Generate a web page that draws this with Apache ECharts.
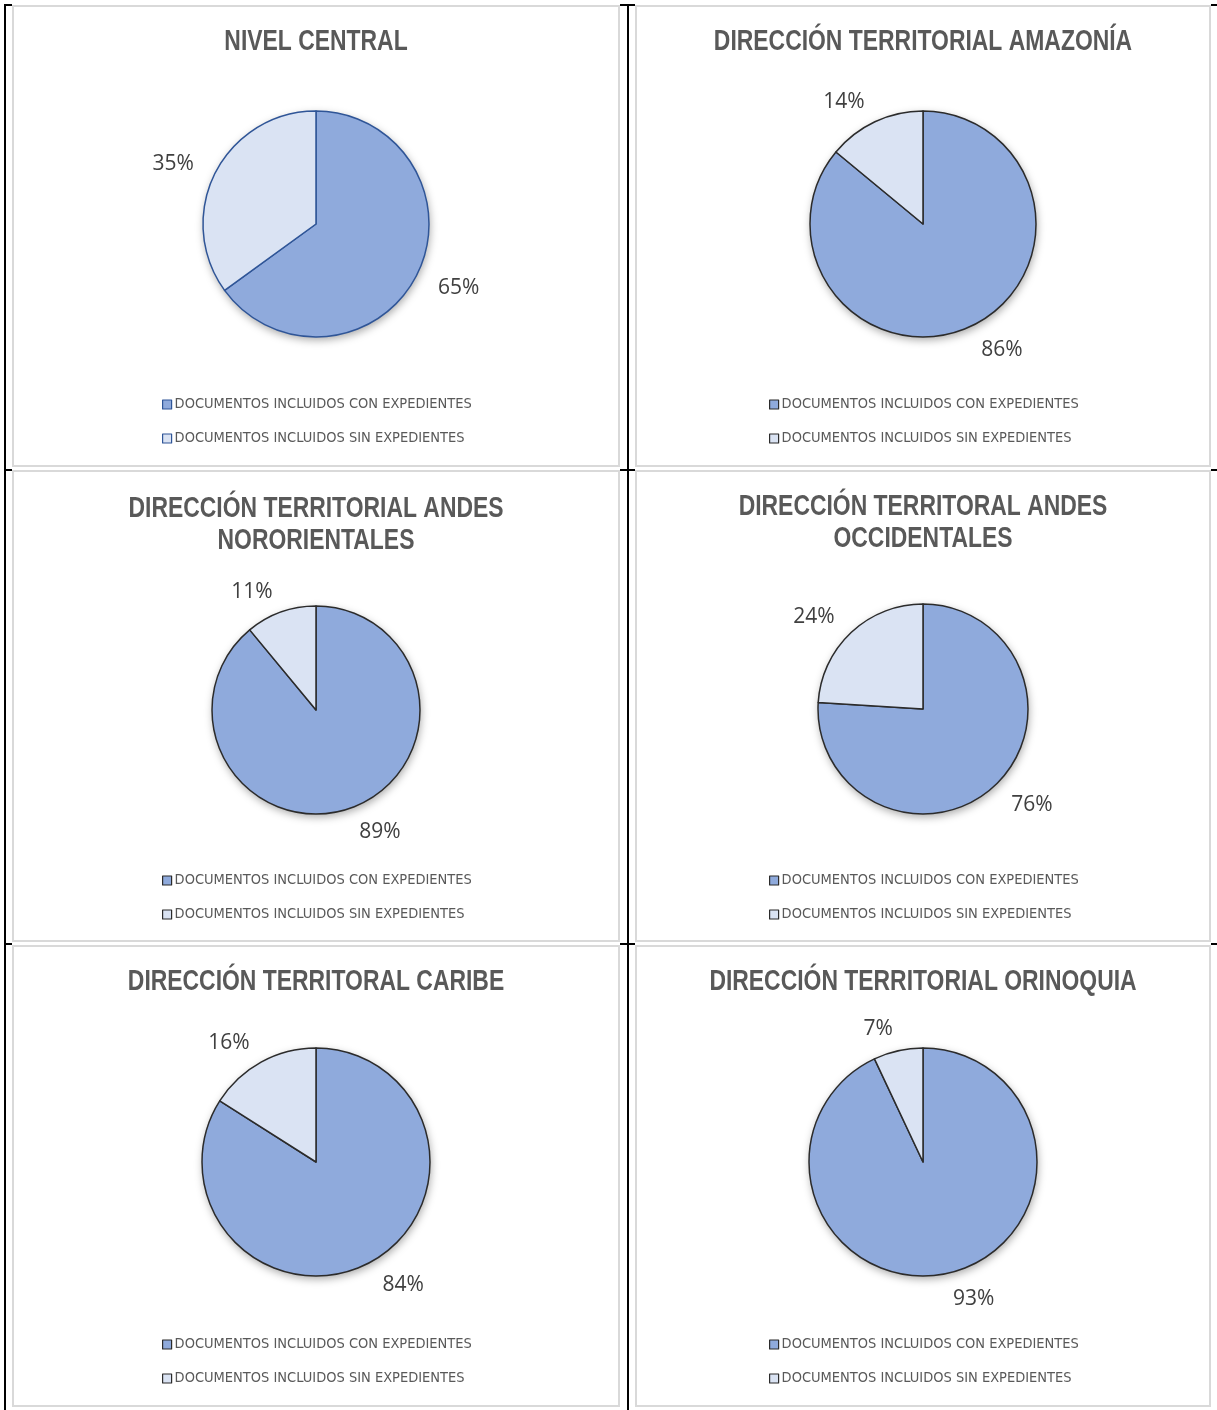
<!DOCTYPE html>
<html>
<head>
<meta charset="utf-8">
<script src="https://cdn.jsdelivr.net/npm/echarts@6/dist/echarts.min.js"></script>
<style>
  html, body { margin: 0; padding: 0; background: #ffffff; }
  #chart { width: 1217px; height: 1410px; }
</style>
</head>
<body>
<div id="chart"></div>
<script>
// ---- DATA ----
const panelTitles = [
  'NIVEL CENTRAL',
  'DIRECCIÓN TERRITORIAL AMAZONÍA',
  'DIRECCIÓN TERRITORIAL ANDES\nNORORIENTALES',
  'DIRECCIÓN TERRITORAL ANDES\nOCCIDENTALES',
  'DIRECCIÓN TERRITORAL CARIBE',
  'DIRECCIÓN TERRITORIAL ORINOQUIA'
];
const categories = ['DOCUMENTOS INCLUIDOS CON EXPEDIENTES', 'DOCUMENTOS INCLUIDOS SIN EXPEDIENTES'];
const conExpedientes = [65, 86, 89, 76, 84, 93];
const sinExpedientes = [35, 14, 11, 24, 16, 7];

// ---- LAYOUT / STYLE ----
const layoutCfg = [
  { cx: 316, cy: 224, r: 113, titleY: 42, legendY: 403, edge: '#2f5597' },
  { cx: 923, cy: 224, r: 113, titleY: 42, legendY: 403, edge: '#2b2b2b' },
  { cx: 316, cy: 710, r: 104, titleY: 509, legendY: 879, edge: '#2b2b2b' },
  { cx: 923, cy: 709, r: 105, titleY: 507, legendY: 879, edge: '#2b2b2b' },
  { cx: 316, cy: 1162, r: 114, titleY: 982, legendY: 1343, edge: '#2b2b2b' },
  { cx: 923, cy: 1162, r: 114, titleY: 982, legendY: 1343, edge: '#2b2b2b' }
];
const colorCon = '#8faadc';
const colorSin = '#dae3f3';
const condensed = "'DejaVu Sans Condensed', 'Liberation Sans', sans-serif";

const frames = [
  { x: 13, y: 6, w: 606, h: 460 },
  { x: 636, y: 6, w: 574, h: 460 },
  { x: 13, y: 471, w: 606, h: 470 },
  { x: 636, y: 471, w: 574, h: 470 },
  { x: 13, y: 946, w: 606, h: 460 },
  { x: 636, y: 946, w: 574, h: 460 }
];

const graphic = [];
// black table lines
graphic.push({ type: 'rect', shape: { x: 4, y: 4, width: 2, height: 1406 }, style: { fill: '#000' }, z: -10 });
graphic.push({ type: 'rect', shape: { x: 627, y: 4, width: 2, height: 1406 }, style: { fill: '#000' }, z: -10 });
graphic.push({ type: 'rect', shape: { x: 4, y: 4, width: 1213, height: 2 }, style: { fill: '#000' }, z: -10 });
graphic.push({ type: 'rect', shape: { x: 4, y: 469, width: 1213, height: 2 }, style: { fill: '#000' }, z: -10 });
graphic.push({ type: 'rect', shape: { x: 4, y: 943, width: 1213, height: 2 }, style: { fill: '#000' }, z: -10 });
frames.forEach(f => {
  graphic.push({ type: 'rect', shape: { x: f.x - 1, y: f.y - 3, width: f.w + 2, height: 4 }, style: { fill: '#fff' }, z: -9 });
  graphic.push({ type: 'rect', shape: { x: f.x, y: f.y, width: f.w, height: f.h }, style: { fill: '#fff', stroke: '#d9d9d9', lineWidth: 2 }, z: -8 });
});

// titles (narrow bold, as real text)
layoutCfg.forEach((p, i) => {
  graphic.push({
    type: 'text',
    x: p.cx,
    y: p.titleY - 16,
    scaleX: 0.79,
    z: 5,
    style: {
      text: panelTitles[i],
      fill: '#595959',
      font: "bold 29px 'Liberation Sans', Arial, sans-serif",
      align: 'center',
      verticalAlign: 'top',
      lineHeight: 32
    }
  });
});

const legend = [];
const series = [];

layoutCfg.forEach((p, i) => {
  legend.push({
    data: categories,
    orient: 'vertical',
    left: p.cx - 154,
    top: p.legendY - 6,
    padding: 0,
    itemGap: 19,
    itemWidth: 9,
    itemHeight: 9,
    icon: 'rect',
    selectedMode: false,
    itemStyle: { borderColor: p.edge, borderWidth: 1.2, shadowBlur: 0, shadowOffsetX: 0, shadowOffsetY: 0 },
    textStyle: { fontFamily: condensed, fontSize: 14.5, color: '#595959', padding: [0, 0, 0, -2] }
  });
  // shadow backing disc
  series.push({
    type: 'pie',
    center: [p.cx, p.cy],
    radius: [0, p.r],
    silent: true,
    z: 2,
    label: { show: false },
    labelLine: { show: false },
    itemStyle: { color: '#ffffff', shadowBlur: 8, shadowOffsetX: 1, shadowOffsetY: 3, shadowColor: 'rgba(0,0,0,0.35)' },
    emphasis: { disabled: true },
    data: [{ value: conExpedientes[i] + sinExpedientes[i], name: 'fondo' }]
  });
  // main pie
  series.push({
    type: 'pie',
    center: [p.cx, p.cy],
    radius: [0, p.r],
    startAngle: 90,
    clockwise: true,
    silent: true,
    z: 3,
    avoidLabelOverlap: false,
    label: {
      show: true,
      position: 'outside',
      formatter: '{c}%',
      distanceToLabelLine: 0,
      offset: [0, 2],
      fontFamily: "'Open Sans', 'Noto Sans', sans-serif",
      fontSize: 21,
      color: '#404040'
    },
    labelLine: { show: false, length: 24, length2: 0 },
    itemStyle: { borderColor: p.edge, borderWidth: 1.5 },
    emphasis: { disabled: true },
    data: [
      { name: categories[0], value: conExpedientes[i], itemStyle: { color: colorCon } },
      { name: categories[1], value: sinExpedientes[i], itemStyle: { color: colorSin } }
    ]
  });
});

const chart = echarts.init(document.getElementById('chart'), null, { renderer: 'canvas' });
chart.setOption({
  backgroundColor: '#ffffff',
  animation: false,
  graphic: graphic,
  legend: legend,
  series: series
});
</script>
</body>
</html>
